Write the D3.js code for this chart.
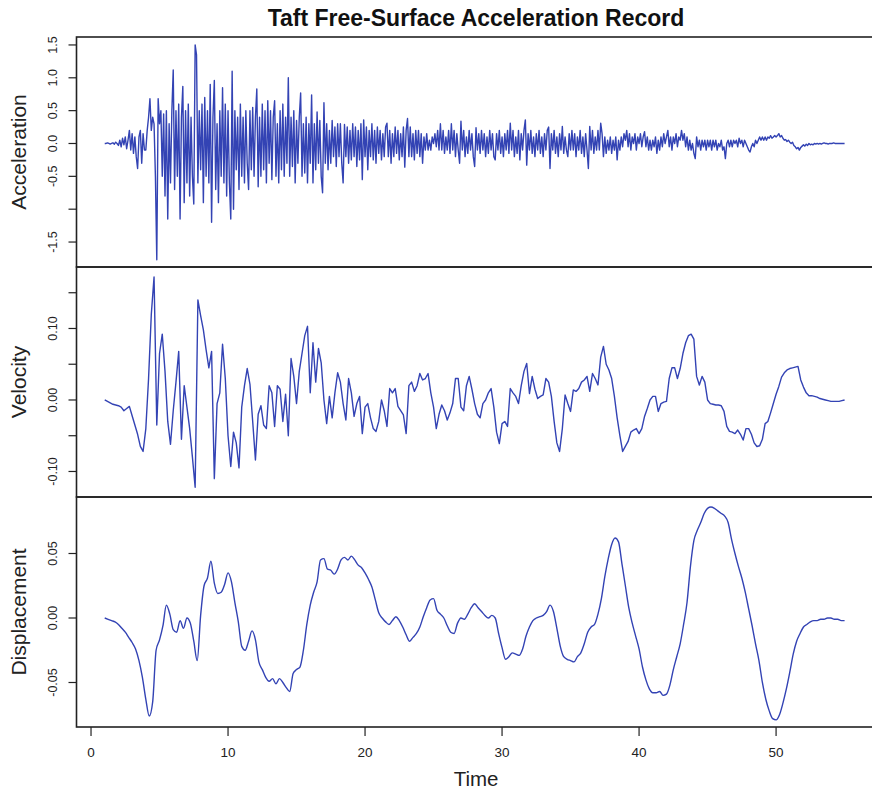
<!DOCTYPE html>
<html>
<head>
<meta charset="utf-8">
<script src="https://cdn.jsdelivr.net/npm/d3@7"></script>
<style>
  body { margin: 0; background: #fff; }
  svg { display: block; font-family: 'Liberation Sans', Arial, sans-serif; }
</style>
</head>
<body>
<svg id="chart"></svg>
<script>
const chartTitle = 'Taft Free-Surface Acceleration Record';
const timeLabel = 'Time';
const timeTicks = [0, 10, 20, 30, 40, 50];

// acceleration, one value every 0.1 s starting at t = 1
const accStart = 1;
const accStep = 0.1;
const accValues = [
  0, 0, 0.01, 0, -0.01, 0, 0.01, -0.01, 0.02, 0,
  -0.03, 0.05, -0.05, 0.08, -0.02, 0.1, -0.08, 0.05, 0.2, -0.1,
  0.15, -0.15, 0.1, -0.2, -0.38, 0.1, 0.2, -0.3, 0.15, -0.1,
  -0.1, 0.2, 0.4, 0.68, 0.2, 0.4, 0.3, -0.5, -1.77, 0.68,
  0.3, 0.5, -0.5, 0.45, -0.8, 0.5, -1.15, 0.3, -0.6, 0.5,
  1.12, -0.7, 0.5, -0.5, 0.6, -1.15, 0.4, 0.87, -0.9, 0.5,
  -0.6, 0.6, -0.8, 0.4, -0.5, -0.92, 1.5, 1.35, -0.6, 0.5,
  -0.4, 0.6, -0.9, 0.7, -0.5, 0.5, -0.6, 0.9, -1.2, 0.4,
  0.96, -0.7, 0.3, -0.9, 0.5, -0.5, 0.85, -0.6, 0.6, -0.8,
  0.5, -0.6, -1.15, 1.1, -1.0, 0.5, -0.4, 0.4, -0.7, 0.6,
  -0.5, 0.4, -0.6, 0.5, -0.3, -0.7, 0.5, -0.4, 0.55, -0.5,
  0.4, 0.83, -0.66, 0.4, -0.5, 0.6, -0.4, 0.5, -0.6, 0.65,
  -0.3, 0.5, -0.55, 0.4, 0.65, -0.5, 0.3, -0.6, 0.5, -0.4,
  0.6, -0.5, 0.4, -0.3, 1.0, -0.5, 0.4, -0.35, 0.5, -0.6,
  0.35, -0.3, 0.4, 0.77, -0.5, 0.3, -0.45, 0.4, -0.6, 0.3,
  -0.3, 0.74, -0.6, 0.3, -0.4, 0.48, -0.3, 0.35, -0.5, -0.75,
  0.62, -0.3, 0.3, -0.4, 0.2, -0.3, 0.35, -0.2, 0.25, -0.35,
  0.3, -0.2, 0.3, -0.3, -0.6, 0.29, -0.2, 0.25, -0.3, 0.2,
  -0.25, 0.3, -0.2, 0.25, -0.35, 0.2, -0.25, 0.3, -0.55, 0.36,
  -0.2, 0.25, -0.4, 0.2, -0.2, 0.3, -0.25, 0.2, -0.3, 0.25,
  -0.15, 0.2, -0.25, 0.15, -0.2, 0.25, 0.31, -0.2, 0.2, -0.3,
  0.15, -0.2, 0.25, -0.15, 0.2, -0.25, 0.15, -0.2, 0.25, -0.36,
  0.2, 0.38, -0.2, 0.25, -0.2, 0.15, -0.25, 0.2, -0.15, 0.2,
  -0.2, 0.15, -0.3, 0.1, -0.1, 0.15, -0.1, 0.05, -0.1, 0.1,
  0, 0.15, -0.05, 0.2, -0.1, 0.3, -0.1, 0.2, -0.15, 0.1,
  -0.1, 0.2, -0.15, 0.3, -0.1, 0.2, -0.2, 0.15, -0.1, -0.3,
  0.34, -0.1, 0.2, -0.2, 0.1, -0.15, 0.2, -0.1, 0.15, -0.2,
  -0.35, 0.24, -0.1, 0.15, -0.15, 0.2, -0.1, 0.15, -0.2, 0.1,
  -0.15, 0.2, -0.1, 0.15, -0.2, -0.25, 0.15, -0.1, 0.2, -0.15,
  0.1, -0.2, 0.15, -0.1, 0.2, -0.15, 0.31, -0.1, 0.2, -0.2,
  0.1, -0.15, 0.2, -0.25, 0.15, -0.1, 0.2, 0.36, -0.33, 0.15,
  -0.1, 0.2, -0.15, 0.1, -0.2, 0.15, -0.1, 0.2, -0.15, 0.1,
  -0.2, 0.15, -0.1, 0.2, 0.25, -0.38, 0.15, -0.1, 0.2, -0.15,
  0.1, -0.2, 0.15, -0.1, 0.26, -0.15, 0.1, -0.1, -0.2, 0.15,
  -0.1, 0.2, -0.1, 0.15, -0.2, 0.1, -0.1, 0.2, -0.15, 0.1,
  -0.2, 0.15, -0.1, -0.38, 0.26, -0.1, 0.2, -0.15, 0.1, -0.1,
  0.2, -0.1, 0.31, 0.15, -0.2, 0.1, -0.15, 0.05, -0.1, 0.1,
  -0.15, 0.05, -0.1, 0.1, -0.25, 0.05, -0.1, 0.1, -0.05, 0.15,
  0.05, 0.2, -0.05, 0.15, -0.1, 0.1, 0, 0.15, -0.1, 0.1,
  0, 0.15, -0.05, 0.1, 0.18, -0.05, 0.1, -0.1, 0.05, -0.1,
  0.05, -0.05, 0.1, -0.15, 0.05, -0.1, 0.1, -0.05, 0.15, 0,
  0.1, 0.2, -0.05, 0.1, -0.1, 0.1, 0, 0.15, -0.05, 0.1,
  0.05, 0.2, 0.05, 0.15, -0.05, 0.1, -0.1, 0.05, -0.1, 0,
  -0.15, -0.23, 0.1, -0.05, 0.05, -0.1, 0.05, -0.05, 0.05, -0.1,
  0.05, -0.05, 0.05, -0.1, 0.05, -0.05, 0.05, -0.1, 0, -0.05,
  0.05, -0.1, -0.05, -0.23, 0, 0.05, -0.05, 0.05, -0.05, 0.05,
  0, 0.05, -0.05, 0.08, 0, 0.05, -0.05, 0.05, 0, -0.05,
  -0.1, -0.13, -0.05, 0, -0.05, 0.05, 0, 0.05, 0.1, 0.05,
  0.1, 0.05, 0.1, 0.05, 0.1, 0.08, 0.12, 0.08, 0.1, 0.12,
  0.1, 0.12, 0.15, 0.1, 0.12, 0.08, 0.05, 0.06, 0.03, 0.05,
  0.02, 0, 0.02, -0.03, -0.05, -0.08, -0.06, -0.1, -0.06, -0.04,
  -0.02, -0.04, -0.01, -0.03, 0, -0.02, -0.01, -0.02, 0, -0.01,
  0, -0.01, 0, -0.01, 0, 0.01, 0, 0, -0.01, 0,
  0, 0, 0.01, 0, 0, 0, 0, 0, 0, 0,
  0
];
const accTicks = [-1.5, -1, -0.5, 0, 0.5, 1, 1.5];
const accTickLabels = ['-1.5', '', '-0.5', '0.0', '0.5', '1.0', '1.5'];

// velocity, one value every 0.2 s starting at t = 1
const velStart = 1;
const velStep = 0.2;
const velValues = [
  0, -0.002, -0.004, -0.006, -0.007, -0.008, -0.01, -0.015, -0.012, -0.009,
  -0.022, -0.035, -0.048, -0.065, -0.072, -0.04, 0.03, 0.12, 0.172, -0.035,
  0.065, 0.092, 0.04, -0.03, -0.062, -0.015, 0.025, 0.068, -0.055, 0.02,
  -0.01, -0.04, -0.08, -0.122, 0.14, 0.118, 0.098, 0.07, 0.045, 0.068,
  -0.11, -0.005, 0.01, 0.078, 0.03, -0.05, -0.093, -0.045, -0.06, -0.095,
  -0.01, 0.02, 0.044, 0.022, -0.03, -0.084, -0.02, -0.008, -0.035, -0.04,
  0.02, 0.01, -0.037, 0.02, 0.015, -0.03, 0.008, -0.05, 0.058, 0.033,
  -0.005, 0.04, 0.065, 0.09, 0.103, 0.01, 0.08, 0.025, 0.072, 0.052,
  0, -0.033, 0.005, -0.025, 0.01, 0.038, 0.025, -0.005, -0.028, 0.03,
  0.01, -0.023, -0.005, 0.005, -0.047, -0.01, -0.005, -0.025, -0.04, -0.044,
  -0.03, 0, -0.015, -0.037, 0.016, 0.01, 0.016, -0.009, -0.015, -0.021,
  -0.047, 0.02, 0.025, 0.012, 0.02, 0.037, 0.028, 0.03, 0.037, 0.01,
  -0.01, -0.04, -0.02, -0.007, -0.015, -0.028, -0.018, -0.005, 0.03, 0.03,
  -0.01, -0.015, 0.02, 0.033, 0.015, -0.005, -0.02, -0.025, -0.005, 0,
  0.01, 0.016, -0.01, -0.045, -0.061, -0.033, -0.03, -0.037, 0.016, 0.01,
  0.005, -0.005, 0.02, 0.04, 0.051, 0.009, 0.033, 0.015, 0.002, 0.005,
  0.007, 0.03, 0.025, 0.005, -0.03, -0.06, -0.072, -0.04, 0.007, -0.005,
  -0.016, 0.014, 0.012, 0.016, 0.025, 0.028, 0.033, 0.012, 0.037, 0.03,
  0.021, 0.06, 0.075, 0.05, 0.042, 0.03, 0.005, -0.025, -0.05, -0.072,
  -0.065, -0.058, -0.045, -0.042, -0.04, -0.047, -0.04, -0.023, -0.012, 0,
  0.005, 0.005, -0.016, -0.005, -0.003, -0.002, 0.03, 0.045, 0.045, 0.03,
  0.044, 0.065, 0.08, 0.09, 0.092, 0.085, 0.033, 0.021, 0.033, 0.025,
  0, -0.005, -0.006, -0.007, -0.007, -0.008, -0.016, -0.037, -0.044, -0.045,
  -0.047, -0.042, -0.048, -0.056, -0.04, -0.04, -0.048, -0.06, -0.065, -0.064,
  -0.055, -0.033, -0.03, -0.018, -0.005, 0.008, 0.019, 0.032, 0.038, 0.042,
  0.044, 0.045, 0.046, 0.047, 0.028, 0.018, 0.01, 0.006, 0.006, 0.005,
  0.004, 0.002, 0.001, 0, -0.001, -0.002, -0.002, -0.002, -0.002, -0.001,
  0
];
const velTicks = [-0.1, -0.05, 0, 0.05, 0.1, 0.15];
const velTickLabels = ['-0.10', '', '0.00', '', '0.10', ''];

// displacement, one value every 0.25 s starting at t = 1
const dispStart = 1;
const dispStep = 0.25;
const dispValues = [
  0, -0.001, -0.002, -0.003, -0.005, -0.008, -0.011, -0.015,
  -0.019, -0.024, -0.033, -0.046, -0.063, -0.076, -0.065, -0.025,
  -0.017, -0.006, 0.01, 0.003, -0.009, -0.011, -0.002, -0.008,
  0, -0.004, -0.018, -0.033, 0.002, 0.025, 0.031, 0.044,
  0.027, 0.019, 0.02, 0.026, 0.035, 0.028, 0.012, -0.003,
  -0.022, -0.025, -0.018, -0.01, -0.017, -0.034, -0.04, -0.046,
  -0.049, -0.047, -0.051, -0.047, -0.05, -0.054, -0.057, -0.043,
  -0.04, -0.038, -0.025, -0.005, 0.01, 0.02, 0.028, 0.045,
  0.046, 0.038, 0.037, 0.034, 0.038, 0.045, 0.047, 0.045,
  0.048, 0.045, 0.041, 0.039, 0.035, 0.03, 0.024, 0.014,
  0.004, 0, -0.003, -0.005, -0.002, 0.001, -0.002, -0.007,
  -0.013, -0.018, -0.015, -0.012, -0.007, 0.001, 0.008, 0.014,
  0.015, 0.006, 0.003, 0, -0.006, -0.011, -0.012, -0.004,
  0, -0.001, 0.003, 0.008, 0.011, 0.008, 0.005, 0.002,
  0, 0.002, 0, -0.012, -0.023, -0.032, -0.03, -0.027,
  -0.028, -0.029, -0.024, -0.014, -0.007, -0.002, 0, 0.001,
  0.002, 0.005, 0.01, 0.005, -0.008, -0.022, -0.03, -0.032,
  -0.033, -0.034, -0.03, -0.027, -0.02, -0.011, -0.007, -0.005,
  0.003, 0.015, 0.032, 0.046, 0.057, 0.062, 0.059, 0.042,
  0.025, 0.008, -0.004, -0.014, -0.024, -0.038, -0.048, -0.055,
  -0.058, -0.058, -0.057, -0.06, -0.059, -0.052, -0.04, -0.03,
  -0.02, -0.005, 0.012, 0.04, 0.06, 0.068, 0.074, 0.081,
  0.085, 0.086, 0.085, 0.083, 0.081, 0.079, 0.074, 0.061,
  0.05, 0.04, 0.031, 0.02, 0.007, -0.006, -0.02, -0.033,
  -0.05, -0.063, -0.072, -0.078, -0.079, -0.075, -0.066, -0.055,
  -0.042, -0.028, -0.018, -0.012, -0.007, -0.005, -0.003, -0.002,
  -0.002, -0.001, -0.001, 0, 0, -0.001, -0.001, -0.002,
  -0.002
];
const dispTicks = [-0.05, 0, 0.05];
const dispTickLabels = ['-0.05', '0.00', '0.05'];

class StackedSeries {
  constructor(_config, _panels) {
    this.config = {
      parentElement: _config.parentElement,
      containerWidth: 872,
      containerHeight: 791,
      margin: { top: 37, left: 76.5 },
      plotWidth: 798.5,
      panelHeight: 230,
      timeDomain: [-1.06, 57.22],
      lineColor: '#3343b4',
      frameColor: '#222',
    };
    this.panels = _panels;
    this.initVis();
  }

  initVis() {
    let vis = this;

    vis.svg = d3
      .select(vis.config.parentElement)
      .attr('width', vis.config.containerWidth)
      .attr('height', vis.config.containerHeight);

    vis.chart = vis.svg
      .append('g')
      .attr('transform', `translate(${vis.config.margin.left},${vis.config.margin.top})`);

    vis.xScale = d3
      .scaleLinear()
      .domain(vis.config.timeDomain)
      .range([0, vis.config.plotWidth]);

    vis.renderVis();
  }

  renderVis() {
    let vis = this;
    const h = vis.config.panelHeight;

    vis.panels.forEach((p, k) => {
      const g = vis.chart.append('g').attr('transform', `translate(0,${k * h})`);
      const yScale = d3.scaleLinear().domain(p.domain).range([h, 0]);

      // the series itself
      const line = d3
        .line()
        .x((d, i) => vis.xScale(p.start + i * p.step))
        .y((d) => yScale(d))
        .curve(p.curve || d3.curveLinear);

      g.append('path')
        .datum(p.values)
        .attr('fill', 'none')
        .attr('stroke', vis.config.lineColor)
        .attr('stroke-width', 1.4)
        .attr('stroke-linejoin', 'round')
        .attr('d', line);

      // left axis, labels drawn rotated like R's default
      const yAxis = g.append('g').attr('class', 'y-axis');
      yAxis
        .selectAll('line')
        .data(p.ticks)
        .join('line')
        .attr('x1', -8)
        .attr('x2', 0)
        .attr('y1', (d) => yScale(d))
        .attr('y2', (d) => yScale(d))
        .attr('stroke', vis.config.frameColor)
        .attr('stroke-width', 1.2);

      yAxis
        .selectAll('text')
        .data(p.ticks)
        .join('text')
        .attr('transform', (d) => `translate(-19.5,${yScale(d)}) rotate(-90)`)
        .attr('text-anchor', 'middle')
        .attr('font-size', 12.5)
        .attr('fill', '#222')
        .text((d, i) => p.tickLabels[i]);

      g.append('text')
        .attr('transform', `translate(-51,${h / 2}) rotate(-90)`)
        .attr('text-anchor', 'middle')
        .attr('font-size', 21)
        .attr('fill', '#222')
        .text(p.name);

      // panel frame
      g.append('rect')
        .attr('width', vis.config.plotWidth)
        .attr('height', h)
        .attr('fill', 'none')
        .attr('stroke', vis.config.frameColor)
        .attr('stroke-width', 1.6);
    });

    const bottom = vis.panels.length * h;

    // shared time axis under the last panel
    const xAxis = vis.chart.append('g').attr('class', 'x-axis');
    xAxis
      .selectAll('line')
      .data(timeTicks)
      .join('line')
      .attr('x1', (d) => vis.xScale(d))
      .attr('x2', (d) => vis.xScale(d))
      .attr('y1', bottom)
      .attr('y2', bottom + 9)
      .attr('stroke', vis.config.frameColor)
      .attr('stroke-width', 1.2);

    xAxis
      .selectAll('text')
      .data(timeTicks)
      .join('text')
      .attr('x', (d) => vis.xScale(d))
      .attr('y', bottom + 30)
      .attr('text-anchor', 'middle')
      .attr('font-size', 13.5)
      .attr('fill', '#222')
      .text((d) => d);

    vis.chart
      .append('text')
      .attr('x', vis.xScale(28.1))
      .attr('y', bottom + 59)
      .attr('text-anchor', 'middle')
      .attr('font-size', 20.5)
      .attr('fill', '#222')
      .text(timeLabel);

    vis.svg
      .append('text')
      .attr('x', vis.config.margin.left + vis.xScale(28.1))
      .attr('y', 26)
      .attr('text-anchor', 'middle')
      .attr('font-size', 23)
      .attr('font-weight', 'bold')
      .attr('fill', '#111')
      .text(chartTitle);
  }
}

const panels = [
  {
    name: 'Acceleration',
    values: accValues,
    start: accStart,
    step: accStep,
    ticks: accTicks,
    tickLabels: accTickLabels,
    domain: [-1.88, 1.621],
  },
  {
    name: 'Velocity',
    values: velValues,
    start: velStart,
    step: velStep,
    ticks: velTicks,
    tickLabels: velTickLabels,
    domain: [-0.1357, 0.186],
  },
  {
    name: 'Displacement',
    values: dispValues,
    start: dispStart,
    step: dispStep,
    ticks: dispTicks,
    tickLabels: dispTickLabels,
    domain: [-0.0845, 0.0938],
    curve: d3.curveMonotoneX,
  },
];

const taftChart = new StackedSeries({ parentElement: '#chart' }, panels);
</script>
</body>
</html>
